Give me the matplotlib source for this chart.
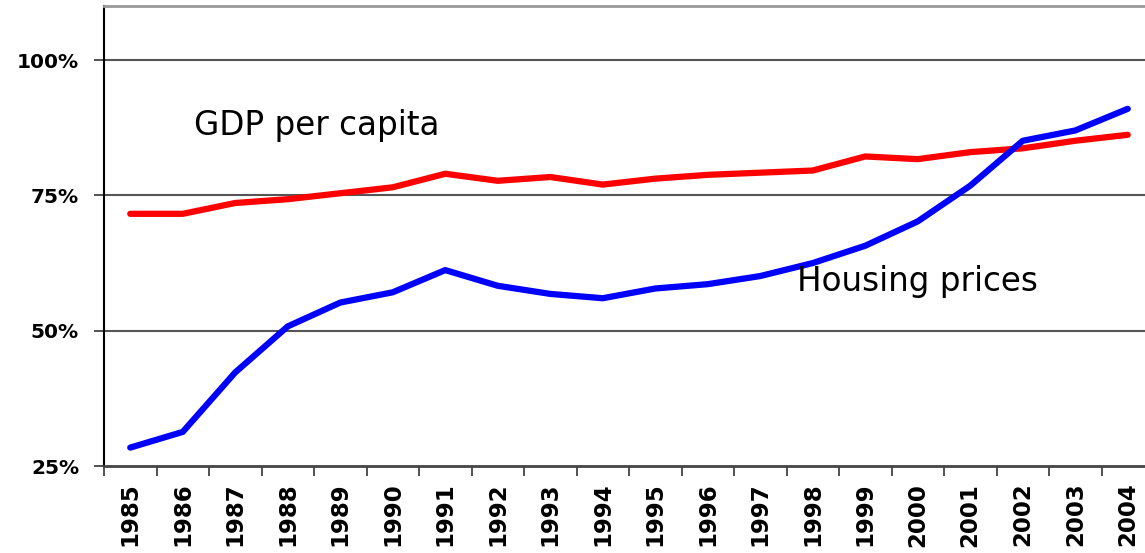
import matplotlib.pyplot as plt

years = [str(y) for y in range(1985, 2005)]
gdp_per_capita = [71.6, 71.6, 73.6, 74.3, 75.4, 76.5, 79.0, 77.7, 78.4, 77.0,
                  78.1, 78.8, 79.2, 79.6, 82.2, 81.7, 83.0, 83.7, 85.1, 86.2]
housing_prices = [28.4, 31.3, 42.3, 50.8, 55.2, 57.1, 61.2, 58.3, 56.8, 56.0,
                  57.8, 58.6, 60.1, 62.5, 65.7, 70.2, 76.8, 85.1, 87.0, 91.0]
y_ticks = [25, 50, 75, 100]
y_labels = ['25%', '50%', '75%', '100%']

fig = plt.figure(figsize=(11.45, 5.53), dpi=100)
ax = fig.add_axes([104 / 1145, 1 - 466 / 553, 1050 / 1145, 460 / 553])

x = range(len(years))
ax.plot(x, gdp_per_capita, color='#ff0000', lw=4.5, solid_capstyle='round', zorder=3)
ax.plot(x, housing_prices, color='#0000ff', lw=4.5, solid_capstyle='round', zorder=3)

ax.set_xlim(-0.5, len(years) - 0.5)
ax.set_ylim(25, 110)

ax.set_yticks(y_ticks)
ax.set_yticklabels(y_labels, fontsize=14.5, fontweight='bold')
ax.set_xticks([i - 0.5 for i in range(len(years) + 1)])
ax.set_xticklabels([])
ax.set_xticks(list(x), minor=True)
ax.set_xticklabels(years, minor=True, rotation=90, fontsize=16.5, fontweight='bold')
ax.tick_params(axis='x', which='minor', length=0, pad=12)
ax.tick_params(axis='x', which='major', length=7, width=1.2, color='#333333')
ax.tick_params(axis='y', length=7, width=1.2, color='#333333', pad=11)

for v in [50, 75, 100]:
    ax.axhline(v, color='#555555', lw=1.5, zorder=1)

ax.spines['right'].set_visible(False)
ax.spines['top'].set_color('#999999')
ax.spines['top'].set_linewidth(2)
ax.spines['left'].set_linewidth(1.5)
ax.spines['bottom'].set_color('#444444')
ax.spines['bottom'].set_linewidth(2)

ax.text(1.21, 84.8, 'GDP per capita', fontsize=23.5, va='bottom', ha='left')
ax.text(12.7, 56.0, 'Housing prices', fontsize=23.5, va='bottom', ha='left')

fig.savefig('out.png', dpi=100)
